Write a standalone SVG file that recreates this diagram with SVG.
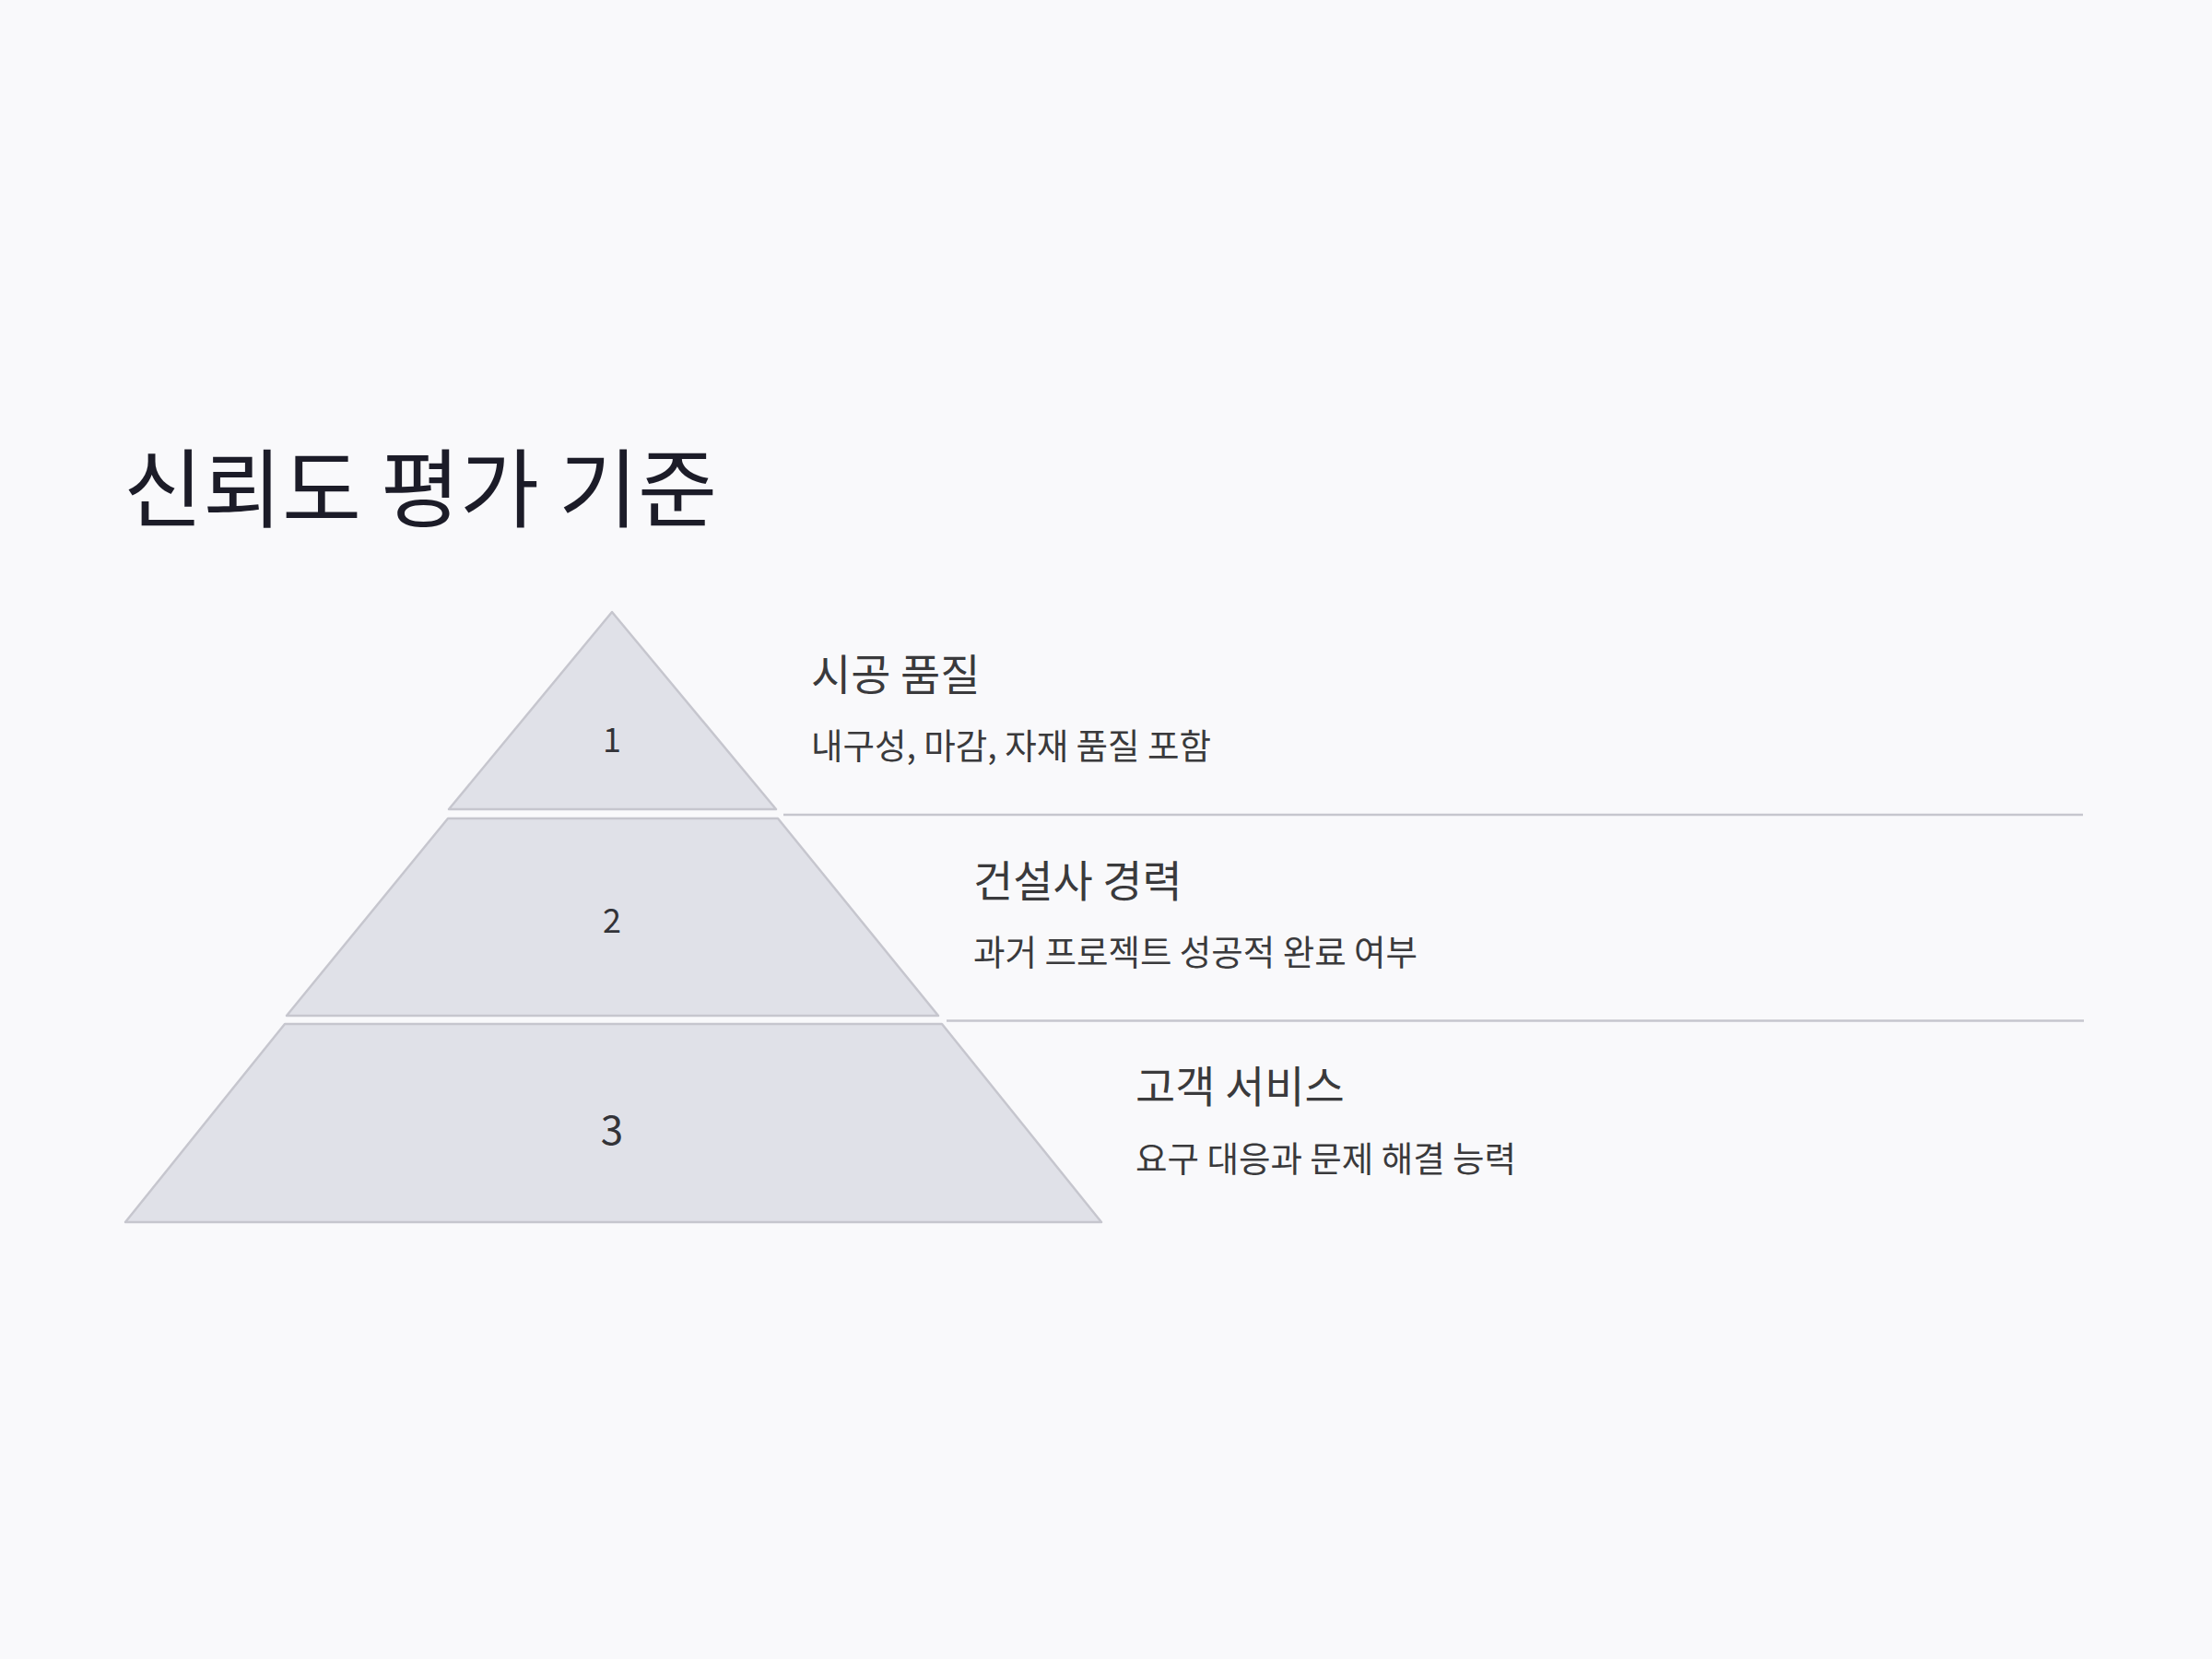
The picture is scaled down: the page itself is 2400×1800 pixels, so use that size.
<svg xmlns="http://www.w3.org/2000/svg" width="2400" height="1800" viewBox="0 0 2400 1800">
<style>
.tier{fill:#e0e1e8;stroke:#c6c6ce;stroke-width:2.5;stroke-linejoin:round}
.num{font-family:"Noto Sans CJK KR","Noto Sans",sans-serif;fill:#333338;text-anchor:middle}
.head{font-family:"Noto Sans CJK KR","Noto Sans",sans-serif;font-size:47px;fill:#3a3a3c}
.desc{font-family:"Noto Sans CJK KR","Noto Sans",sans-serif;font-size:37.5px;fill:#3a3a3c}
.sep{stroke:#c6c6ce;stroke-width:2.5}
</style>
<rect width="2400" height="1800" fill="#f9f9fb"/>
<text x="134" y="565" font-family="'Noto Sans CJK KR','Noto Sans',sans-serif" font-size="93.5" fill="#1c1c28">신뢰도 평가 기준</text>
<g id="connectors">
<line class="sep" x1="850" y1="884" x2="2260" y2="884"/>
<line class="sep" x1="1027" y1="1107.5" x2="2261" y2="1107.5"/>
</g>
<g id="tier1">
<polygon class="tier" points="664,664 842,878 487,878"/>
<text class="num" x="664" y="816" font-size="36">1</text>
<text class="head" x="880" y="749">시공 품질</text>
<text class="desc" x="880" y="823">내구성, 마감, 자재 품질 포함</text>
</g>
<g id="tier2">
<polygon class="tier" points="486,888 844,888 1018,1102 311,1102"/>
<text class="num" x="664" y="1012" font-size="36">2</text>
<text class="head" x="1056" y="973">건설사 경력</text>
<text class="desc" x="1056" y="1047">과거 프로젝트 성공적 완료 여부</text>
</g>
<g id="tier3">
<polygon class="tier" points="309,1111 1022,1111 1195,1326 136,1326"/>
<text class="num" x="664" y="1242" font-size="44">3</text>
<text class="head" x="1232" y="1196">고객 서비스</text>
<text class="desc" x="1232" y="1271">요구 대응과 문제 해결 능력</text>
</g>
</svg>
